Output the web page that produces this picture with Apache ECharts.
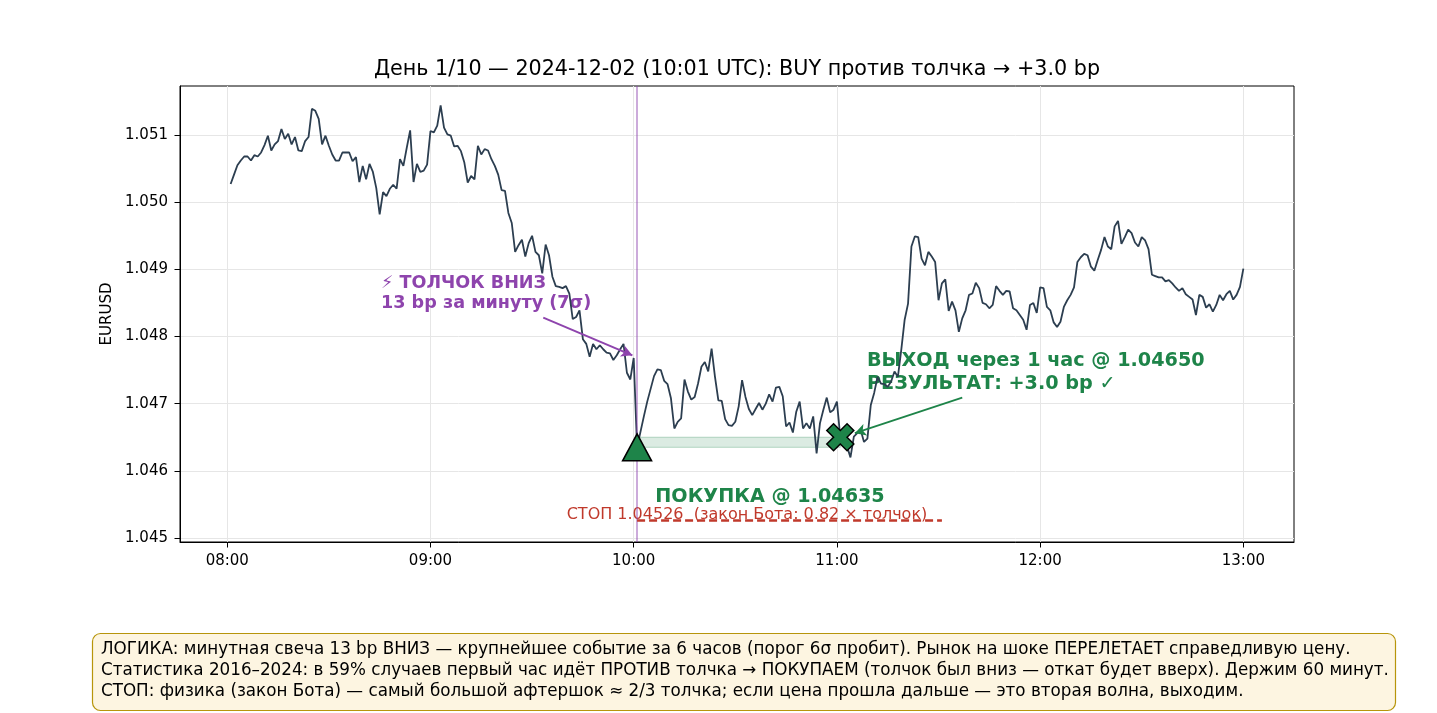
<!DOCTYPE html>
<html>
<head>
<meta charset="utf-8">
<script src="https://cdn.jsdelivr.net/npm/echarts@6/dist/echarts.min.js"></script>
<style>
  html, body { margin: 0; padding: 0; background: #fff; }
  #chart { width: 1437px; height: 713px; }
</style>
</head>
<body>
<div id="chart"></div>
<script>
// EURUSD minute closes, 08:01 .. 13:00 UTC (one array per hour)
const price08 = [
  1.05027, 1.05041, 1.05055, 1.05062, 1.05068, 1.05068, 1.05062, 1.05070, 1.05068, 1.05074,
  1.05085, 1.05099, 1.05077, 1.05086, 1.05091, 1.05109, 1.05094, 1.05102, 1.05086, 1.05097,
  1.05077, 1.05076, 1.05091, 1.05097, 1.05139, 1.05136, 1.05124, 1.05086, 1.05099, 1.05084,
  1.05071, 1.05062, 1.05062, 1.05074, 1.05074, 1.05074, 1.05061, 1.05067, 1.05030, 1.05054,
  1.05034, 1.05057, 1.05045, 1.05021, 1.04982, 1.05015, 1.05009, 1.05020, 1.05026, 1.05020,
  1.05064, 1.05054, 1.05081, 1.05107, 1.05030, 1.05057, 1.05045, 1.05047, 1.05056, 1.05106
];
const price09 = [
  1.05104, 1.05114, 1.05144, 1.05111, 1.05101, 1.05099, 1.05083, 1.05084, 1.05076, 1.05059,
  1.05029, 1.05039, 1.05034, 1.05084, 1.05071, 1.05079, 1.05077, 1.05064, 1.05054, 1.05041,
  1.05018, 1.05017, 1.04984, 1.04969, 1.04926, 1.04936, 1.04944, 1.04919, 1.04939, 1.04950,
  1.04926, 1.04921, 1.04894, 1.04937, 1.04921, 1.04889, 1.04875, 1.04874, 1.04872, 1.04875,
  1.04864, 1.04826, 1.04829, 1.04839, 1.04796, 1.04789, 1.04770, 1.04789, 1.04781, 1.04787,
  1.04781, 1.04776, 1.04775, 1.04765, 1.04772, 1.04781, 1.04789, 1.04746, 1.04736, 1.04768
];
const price10 = [
  1.04635, 1.04658, 1.04681, 1.04703, 1.04722, 1.04741, 1.04751, 1.04750, 1.04734, 1.04729,
  1.04708, 1.04663, 1.04673, 1.04678, 1.04736, 1.04718, 1.04706, 1.04710, 1.04730, 1.04755,
  1.04762, 1.04748, 1.04782, 1.04740, 1.04705, 1.04704, 1.04677, 1.04668, 1.04667, 1.04673,
  1.04696, 1.04735, 1.04710, 1.04692, 1.04683, 1.04692, 1.04701, 1.04691, 1.04700, 1.04714,
  1.04703, 1.04724, 1.04725, 1.04711, 1.04666, 1.04672, 1.04657, 1.04688, 1.04703, 1.04663,
  1.04671, 1.04663, 1.04681, 1.04626, 1.04671, 1.04691, 1.04709, 1.04687, 1.04691, 1.04703
];
const price11 = [
  1.04650, 1.04640, 1.04636, 1.04620, 1.04651, 1.04656, 1.04661, 1.04643, 1.04648, 1.04698,
  1.04716, 1.04740, 1.04730, 1.04729, 1.04725, 1.04733, 1.04748, 1.04740, 1.04780, 1.04825,
  1.04849, 1.04934, 1.04949, 1.04948, 1.04916, 1.04906, 1.04926, 1.04919, 1.04911, 1.04854,
  1.04879, 1.04885, 1.04838, 1.04852, 1.04839, 1.04807, 1.04827, 1.04839, 1.04862, 1.04864,
  1.04880, 1.04872, 1.04850, 1.04848, 1.04842, 1.04847, 1.04875, 1.04868, 1.04862, 1.04868,
  1.04867, 1.04842, 1.04839, 1.04832, 1.04825, 1.04810, 1.04847, 1.04850, 1.04835, 1.04873
];
const price12 = [
  1.04872, 1.04844, 1.04839, 1.04821, 1.04814, 1.04822, 1.04844, 1.04854, 1.04862, 1.04873,
  1.04911, 1.04918, 1.04923, 1.04921, 1.04904, 1.04898, 1.04914, 1.04929, 1.04948, 1.04934,
  1.04930, 1.04964, 1.04972, 1.04938, 1.04948, 1.04959, 1.04954, 1.04940, 1.04934, 1.04948,
  1.04943, 1.04930, 1.04892, 1.04890, 1.04888, 1.04888, 1.04882, 1.04884, 1.04879, 1.04873,
  1.04868, 1.04872, 1.04863, 1.04859, 1.04855, 1.04832, 1.04862, 1.04859, 1.04843, 1.04848,
  1.04837, 1.04847, 1.04862, 1.04854, 1.04863, 1.04868, 1.04855, 1.04862, 1.04874, 1.04901
];

// axis ticks (x in minutes after 08:00)
const xTicks = [0, 60, 120, 180, 240, 300];
const xTickLabels = ['08:00', '09:00', '10:00', '11:00', '12:00', '13:00'];
const yTicks = [1.045, 1.046, 1.047, 1.048, 1.049, 1.050, 1.051];

// trade
const shockMinute = 120;       // 10:00 close before the shock
const shockPrice = 1.04768;
const entryMinute = 121;       // 10:01
const entryPrice = 1.04635;
const exitMinute = 181;        // 11:01
const exitPrice = 1.04650;
const stopPrice = 1.04526;
const stopEndMinute = 211;

const prices = [].concat(price08, price09, price10, price11, price12);
const lineData = prices.map((p, i) => [i + 1, p]);

const FONT = 'DejaVu Sans';
const GREEN = '#1e8449';
const PURPLE = '#8e44ad';
const RED = '#c0392b';

const chart = echarts.init(document.getElementById('chart'));

const option = {
  animation: false,
  textStyle: { fontFamily: FONT },
  grid: {
    left: 180, right: 143, top: 86, bottom: 171,
    show: true, borderColor: '#000', borderWidth: 1, backgroundColor: 'transparent'
  },
  xAxis: {
    type: 'value',
    min: -13.95, max: 314.95,
    axisLine: { show: true, onZero: false, lineStyle: { color: '#000', width: 1 } },
    axisTick: { show: true, customValues: xTicks, length: 5.5, lineStyle: { color: '#000' } },
    axisLabel: {
      customValues: xTicks, color: '#000', fontSize: 15, margin: 12, fontFamily: FONT,
      formatter: v => xTickLabels[xTicks.indexOf(v)] || ''
    },
    splitLine: { show: true, lineStyle: { color: '#e6e6e6', width: 1 } }
  },
  yAxis: {
    type: 'value',
    min: 1.04494, max: 1.05173,
    name: 'EURUSD', nameLocation: 'middle', nameGap: 64, nameRotate: 90,
    nameTextStyle: { color: '#000', fontSize: 15, fontFamily: FONT },
    axisLine: { show: true, onZero: false, lineStyle: { color: '#000', width: 1 } },
    axisTick: { show: true, customValues: yTicks, length: 5.5, lineStyle: { color: '#000' } },
    axisLabel: {
      customValues: yTicks, color: '#000', fontSize: 15, margin: 12, fontFamily: FONT,
      formatter: v => v.toFixed(3)
    },
    splitLine: { show: true, lineStyle: { color: '#e6e6e6', width: 1 } }
  },
  series: [
    {
      name: 'EURUSD',
      type: 'line',
      data: lineData,
      showSymbol: false,
      z: 3,
      lineStyle: { color: '#2c3e50', width: 1.8 },
      markArea: {
        silent: true,
        itemStyle: { color: 'rgba(30,132,73,0.16)', borderColor: 'rgba(30,132,73,0.3)', borderWidth: 1 },
        data: [[{ coord: [entryMinute, entryPrice] }, { coord: [exitMinute, exitPrice] }]]
      },
      markLine: {
        silent: true,
        symbol: 'none',
        label: { show: false },
        data: [
          { xAxis: entryMinute, lineStyle: { color: 'rgba(142,68,173,0.6)', width: 1.5, type: 'solid' } },
          [
            { coord: [entryMinute, stopPrice], lineStyle: { color: RED, width: 2.5, type: [8, 4] } },
            { coord: [stopEndMinute, stopPrice] }
          ]
        ]
      }
    },
    {
      name: 'entry',
      type: 'scatter',
      z: 6,
      symbol: 'triangle',
      symbolSize: [29, 27],
      itemStyle: { color: GREEN, opacity: 1, borderColor: '#000', borderWidth: 1.5 },
      data: [[entryMinute, entryPrice]],
      markLine: {
        silent: true,
        symbol: ['none', 'arrow'],
        symbolSize: [9, 11],
        label: { show: false },
        lineStyle: { type: 'solid' },
        data: [
          [
            { coord: [93.3, 1.04828], lineStyle: { color: PURPLE, width: 2 } },
            { coord: [shockMinute - 0.4, shockPrice + 0.00004] }
          ],
          [
            { coord: [217, 1.04709], lineStyle: { color: GREEN, width: 1.8 } },
            { coord: [exitMinute + 4.3, exitPrice + 0.00006] }
          ]
        ]
      }
    },
    {
      name: 'exit',
      type: 'scatter',
      z: 6,
      symbol: 'path://M2.5,0 L5,2.5 L7.5,0 L10,2.5 L7.5,5 L10,7.5 L7.5,10 L5,7.5 L2.5,10 L0,7.5 L2.5,5 L0,2.5 Z',
      symbolSize: 27,
      itemStyle: { color: GREEN, opacity: 1, borderColor: '#000', borderWidth: 1.5 },
      data: [[exitMinute, exitPrice]]
    }
  ]
};

chart.setOption(option);

const boxLines = [
  'ЛОГИКА: минутная свеча 13 bp ВНИЗ — крупнейшее событие за 6 часов (порог 6σ пробит). Рынок на шоке ПЕРЕЛЕТАЕТ справедливую цену.',
  'Статистика 2016–2024: в 59% случаев первый час идёт ПРОТИВ толчка → ПОКУПАЕМ (толчок был вниз — откат будет вверх). Держим 60 минут.',
  'СТОП: физика (закон Бота) — самый большой афтершок ≈ 2/3 толчка; если цена прошла дальше — это вторая волна, выходим.'
];

chart.setOption({
  graphic: [
    {
      type: 'text', x: 737, y: 70,
      style: {
        text: 'День 1/10 — 2024-12-02 (10:01 UTC): BUY против толчка → +3.0 bp',
        font: '20.7px "DejaVu Sans"', fill: '#000', textAlign: 'center', textVerticalAlign: 'middle'
      }
    },
    {
      type: 'text', x: 381, y: 273,
      style: {
        text: '⚡ ТОЛЧОК ВНИЗ\n13 bp за минуту (7σ)',
        font: 'bold 17.6px "DejaVu Sans"', fill: PURPLE, lineHeight: 20.5
      }
    },
    {
      type: 'text', x: 867, y: 350,
      style: {
        text: 'ВЫХОД через 1 час @ 1.04650\nРЕЗУЛЬТАТ: +3.0 bp ✓',
        font: 'bold 19.2px "DejaVu Sans"', fill: GREEN, lineHeight: 22.5
      }
    },
    {
      type: 'text', x: 770, y: 497,
      style: {
        text: 'ПОКУПКА @ 1.04635',
        font: 'bold 19.2px "DejaVu Sans"', fill: GREEN, textAlign: 'center', textVerticalAlign: 'middle'
      }
    },
    {
      type: 'text', x: 747, y: 515,
      style: {
        text: 'СТОП 1.04526  (закон Бота: 0.82 × толчок)',
        font: '16px "DejaVu Sans"', fill: RED, textAlign: 'center', textVerticalAlign: 'middle'
      }
    },
    {
      type: 'rect',
      shape: { x: 92.5, y: 633.5, width: 1303, height: 77, r: 8 },
      style: { fill: '#fdf5e1', stroke: '#b7950b', lineWidth: 1.2 }
    },
    {
      type: 'text', x: 101, y: 639.5,
      style: {
        text: boxLines.join('\n'),
        font: '16.75px "DejaVu Sans"', fill: '#000', lineHeight: 21
      }
    }
  ]
});
</script>
</body>
</html>
